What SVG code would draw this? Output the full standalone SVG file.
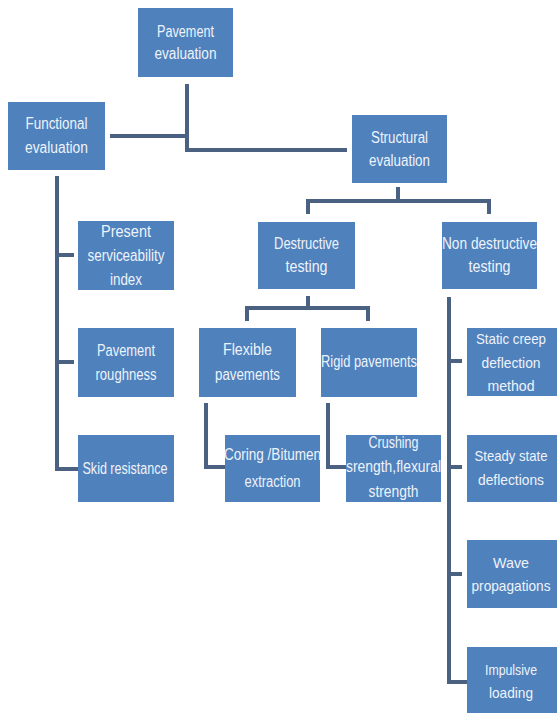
<svg xmlns="http://www.w3.org/2000/svg" width="560" height="715" viewBox="0 0 560 715">
<style>
.box{fill:#4f81bd;}
.t{font-family:"Liberation Sans",Arial,sans-serif;font-size:16px;fill:#eef3fa;text-anchor:middle;}
.r{font-size:15px;}
.c{fill:none;stroke:#4a6182;stroke-width:4;stroke-linejoin:miter;}
</style>
<rect width="560" height="715" fill="#ffffff"/>
<g id="connectors">
<path class="c" d="M187 84 V150 H347"/>
<path class="c" d="M110 136 H187"/>
<path class="c" d="M398 187 V201"/>
<path class="c" d="M308 214 V201 H489 V214"/>
<path class="c" d="M308 296 V308"/>
<path class="c" d="M247 321 V308 H368 V321"/>
<path class="c" d="M206 403 V467 H225"/>
<path class="c" d="M328 403 V467 H346"/>
<path class="c" d="M57 176 V469 H78"/>
<path class="c" d="M57 255 H74"/>
<path class="c" d="M57 362 H74"/>
<path class="c" d="M449 297 V682 H467"/>
<path class="c" d="M449 361 H462"/>
<path class="c" d="M449 467 H462"/>
<path class="c" d="M449 574 H462"/>
</g>
<g id="pavement-evaluation"><rect class="box" x="138" y="8" width="95" height="69"/><text class="t" x="185.5" y="37" textLength="57" lengthAdjust="spacingAndGlyphs">Pavement</text><text class="t" x="185.5" y="59" textLength="62" lengthAdjust="spacingAndGlyphs">evaluation</text></g>
<g id="functional-evaluation"><rect class="box" x="8" y="102" width="97" height="68"/><text class="t" x="56.5" y="129" textLength="62" lengthAdjust="spacingAndGlyphs">Functional</text><text class="t" x="56.5" y="153" textLength="63" lengthAdjust="spacingAndGlyphs">evaluation</text></g>
<g id="structural-evaluation"><rect class="box" x="352" y="115" width="95" height="68"/><text class="t" x="399.5" y="143" textLength="57" lengthAdjust="spacingAndGlyphs">Structural</text><text class="t" x="399.5" y="166" textLength="61" lengthAdjust="spacingAndGlyphs">evaluation</text></g>
<g id="destructive-testing"><rect class="box" x="258" y="222" width="97" height="67"/><text class="t" x="306.5" y="249" textLength="65" lengthAdjust="spacingAndGlyphs">Destructive</text><text class="t" x="306.5" y="272" textLength="42" lengthAdjust="spacingAndGlyphs">testing</text></g>
<g id="non-destructive-testing"><rect class="box" x="442" y="222" width="95" height="67"/><text class="t" x="489.5" y="249" textLength="95" lengthAdjust="spacingAndGlyphs">Non destructive</text><text class="t" x="489.5" y="272" textLength="42" lengthAdjust="spacingAndGlyphs">testing</text></g>
<g id="present-serviceability-index"><rect class="box" x="78" y="221" width="96" height="69"/><text class="t" x="126" y="237" textLength="50" lengthAdjust="spacingAndGlyphs">Present</text><text class="t" x="126" y="261" textLength="77" lengthAdjust="spacingAndGlyphs">serviceability</text><text class="t" x="126" y="285" textLength="32" lengthAdjust="spacingAndGlyphs">index</text></g>
<g id="pavement-roughness"><rect class="box" x="78" y="328" width="96" height="69"/><text class="t" x="126" y="356" textLength="58" lengthAdjust="spacingAndGlyphs">Pavement</text><text class="t" x="126" y="380" textLength="61" lengthAdjust="spacingAndGlyphs">roughness</text></g>
<g id="skid-resistance"><rect class="box" x="78" y="435" width="96" height="67"/><text class="t" x="125" y="474" textLength="85" lengthAdjust="spacingAndGlyphs">Skid resistance</text></g>
<g id="flexible-pavements"><rect class="box" x="199" y="328" width="97" height="69"/><text class="t" x="247.5" y="355" textLength="49" lengthAdjust="spacingAndGlyphs">Flexible</text><text class="t" x="247.5" y="380" textLength="65" lengthAdjust="spacingAndGlyphs">pavements</text></g>
<g id="rigid-pavements"><rect class="box" x="321" y="328" width="96" height="69"/><text class="t" x="369" y="367" textLength="96" lengthAdjust="spacingAndGlyphs">Rigid pavements</text></g>
<g id="coring-bitumen-extraction"><rect class="box" x="225" y="435" width="95" height="67"/><text class="t" x="272.5" y="460" textLength="97" lengthAdjust="spacingAndGlyphs">Coring /Bitumen</text><text class="t" x="272.5" y="487" textLength="56" lengthAdjust="spacingAndGlyphs">extraction</text></g>
<g id="crushing-strength"><rect class="box" x="346" y="435" width="95" height="67"/><text class="t" x="393.5" y="448" textLength="50" lengthAdjust="spacingAndGlyphs">Crushing</text><text class="t" x="393.5" y="472" textLength="95" lengthAdjust="spacingAndGlyphs">srength,flexural</text><text class="t" x="393.5" y="497" textLength="50" lengthAdjust="spacingAndGlyphs">strength</text></g>
<g id="static-creep"><rect class="box" x="467" y="328" width="90" height="68"/><text class="t r" x="511" y="344" textLength="70" lengthAdjust="spacingAndGlyphs">Static creep</text><text class="t r" x="511" y="368" textLength="59" lengthAdjust="spacingAndGlyphs">deflection</text><text class="t r" x="511" y="391" textLength="47" lengthAdjust="spacingAndGlyphs">method</text></g>
<g id="steady-state"><rect class="box" x="467" y="435" width="90" height="67"/><text class="t r" x="511" y="461" textLength="73" lengthAdjust="spacingAndGlyphs">Steady state</text><text class="t r" x="511" y="485" textLength="66" lengthAdjust="spacingAndGlyphs">deflections</text></g>
<g id="wave-propagations"><rect class="box" x="467" y="540" width="90" height="68"/><text class="t r" x="511" y="568" textLength="36" lengthAdjust="spacingAndGlyphs">Wave</text><text class="t r" x="511" y="591" textLength="79" lengthAdjust="spacingAndGlyphs">propagations</text></g>
<g id="impulsive-loading"><rect class="box" x="467" y="647" width="90" height="66"/><text class="t r" x="511" y="675" textLength="52" lengthAdjust="spacingAndGlyphs">Impulsive</text><text class="t r" x="511" y="698" textLength="44" lengthAdjust="spacingAndGlyphs">loading</text></g>
</svg>
